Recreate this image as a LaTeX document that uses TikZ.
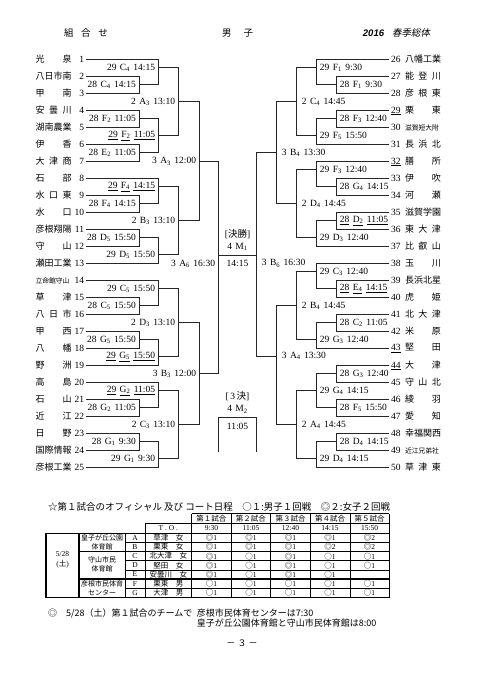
\documentclass[tikz,border=0pt]{standalone}
\usepackage{fontspec}
\setmainfont{Liberation Serif}
\newfontfamily\jp{Noto Sans CJK JP}
\newfontfamily\jpsl{Noto Sans CJK JP}[FakeSlant=0.2]
\newfontfamily\hsans{Liberation Sans}
\usepackage{tikz}
\usetikzlibrary{positioning}

\newcommand{\mlab}[4]{#1\hspace{3.4pt}#2\textsubscript{#3}\hspace{3.4pt}#4}
\newcommand{\mlabu}[4]{\underline{#1}\hspace{3.4pt}\underline{#2\textsubscript{#3}}\hspace{3.4pt}\underline{#4}}
\newcommand{\dmk}{{\jp ◎}}
\newcommand{\smk}{{\jp ○}}

\begin{document}
\begin{tikzpicture}[
  x=1pt, y=-1pt,
  font=\fontsize{9.5}{11}\selectfont,
  bl/.style={line width=0.9pt, black!85},
  lteam/.style={anchor=east, inner sep=0pt, outer xsep=2pt},
  rteam/.style={anchor=west, inner sep=0pt, outer xsep=2pt},
  llab/.style={anchor=east, inner sep=0pt, xshift=-3pt},
  rlab/.style={anchor=west, inner sep=0pt, xshift=3pt},
  ctext/.style={inner sep=0pt},
  cell/.style={inner sep=0pt, font=\fontsize{7.5}{8}\selectfont},
  jcell/.style={inner sep=0pt, font=\jp\fontsize{7.5}{8}\selectfont},
  tline/.style={line width=0.5pt},
  tthick/.style={line width=1.1pt}
]
\fill[white] (0,0) rectangle (481,680);
\useasboundingbox (0,0) rectangle (481,680);

% heading
\node[ctext] (hd1) at (86,33.3) {\jp\makebox[44pt][s]{組 合 せ}};
\node[ctext] (hd2) at (237.5,33.3) {\jp\makebox[31pt][s]{男 子}};
\node[ctext] (hd3) at (396.5,33.3) {{\hsans\bfseries\itshape 2016}\hspace{8pt}{\jpsl 春季総体}};

% teams
\foreach \i/\nm in {1/光 泉, 2/八日市南, 3/甲 南, 4/安 曇 川, 5/湖南農業, 6/伊 香, 7/大 津 商,
  8/石 部, 9/水 口 東, 10/水 口, 11/彦根翔陽, 12/守 山, 13/瀬田工業,
  14/{\fontsize{6.8}{8}\selectfont 立命館守山}, 15/草 津, 16/八 日 市, 17/甲 西, 18/八 幡, 19/野 洲,
  20/高 島, 21/石 山, 22/近 江, 23/日 野, 24/国際情報, 25/彦根工業}
  \node[lteam] (t\i) at (86,{59.3+17*(\i-1)}) {\makebox[36pt][s]{\jp\fontsize{9}{11}\selectfont\nm}\makebox[12.5pt][r]{\i}};

\foreach \i/\num/\nm in {26/26/八幡工業, 27/27/能 登 川, 28/28/彦 根 東, 29/\underline{29}/栗 東,
  30/30/{\fontsize{6.8}{8}\selectfont 滋賀短大附}, 31/31/長 浜 北, 32/\underline{32}/膳 所, 33/33/伊 吹,
  34/34/河 瀬, 35/35/滋賀学園, 36/36/東 大 津, 37/37/比 叡 山, 38/38/玉 川, 39/39/長浜北星,
  40/40/虎 姫, 41/41/北 大 津, 42/42/米 原, 43/\underline{43}/堅 田, 44/\underline{44}/大 津,
  45/45/守 山 北, 46/46/綾 羽, 47/47/愛 知, 48/48/幸福関西,
  49/49/{\fontsize{6.8}{8}\selectfont 近江兄弟社}, 50/50/草 津 東}
  \node[rteam] (t\i) at (389,{59.3+17*(\i-26)}) {\makebox[14pt][l]{\num}\makebox[36pt][s]{\jp\fontsize{9}{11}\selectfont\nm}};

% left half
\foreach \m/\x/\y/\a/\b/\txt in {
  L28C4/139/84.8/t2.east/t3.east/{\mlab{28}{C}{4}{14:15}},
  L29C4/158.3/67.8/t1.east/L28C4/{\mlab{29}{C}{4}{14:15}},
  L28F2/139/118.8/t4.east/t5.east/{\mlab{28}{F}{2}{11:05}},
  L28E2/139/152.8/t6.east/t7.east/{\mlab{28}{E}{2}{11:05}},
  L29F2/158.3/135.8/L28F2/L28E2/{\mlabu{29}{F}{2}{11:05}},
  L2A3/178.3/101.8/L29C4/L29F2/{\mlab{2}{A}{3}{13:10}\hspace{4pt}},
  L28F4/139/203.8/t9.east/t10.east/{\mlab{28}{F}{4}{14:15}},
  L29F4/158.3/186.8/t8.east/L28F4/{\mlabu{29}{F}{4}{14:15}},
  L28D5/139/237.8/t11.east/t12.east/{\mlab{28}{D}{5}{15:50}},
  L29D5/158.3/254.8/L28D5/t13.east/{\mlab{29}{D}{5}{15:50}},
  L2B3/178.3/220.8/L29F4/L29D5/{\mlab{2}{B}{3}{13:10}\hspace{4pt}},
  L3A3/199.3/161.3/L2A3/L2B3/{\mlab{3}{A}{3}{12:00}},
  L28C5/139/305.8/t15.east/t16.east/{\mlab{28}{C}{5}{15:50}},
  L29C5/158.3/288.8/t14.east/L28C5/{\mlab{29}{C}{5}{15:50}},
  L28G5/139/339.8/t17.east/t18.east/{\mlab{28}{G}{5}{15:50}},
  L29G5/158.3/356.8/L28G5/t19.east/{\mlabu{29}{G}{5}{15:50}},
  L2D3/178.3/322.8/L29C5/L29G5/{\mlab{2}{D}{3}{13:10}\hspace{4pt}},
  L28G2/139/407.8/t21.east/t22.east/{\mlab{28}{G}{2}{11:05}},
  L29G2/158.3/390.8/t20.east/L28G2/{\mlabu{29}{G}{2}{11:05}},
  L28G1/139/441.8/t23.east/t24.east/{\mlab{28}{G}{1}{9:30}},
  L29G1/158.3/458.8/L28G1/t25.east/{\mlab{29}{G}{1}{9:30}},
  L2C3/178.3/424.8/L29G2/L29G1/{\mlab{2}{C}{3}{13:10}\hspace{4pt}},
  L3B3/199.3/373.8/L2D3/L2C3/{\mlab{3}{B}{3}{12:00}}}{
  \coordinate (\m) at (\x,\y);
  \draw[bl] (\a) -| (\m) (\b) -| (\m);
  \node[llab] (lab\m) at (\m) {\txt};
}

% right half
\foreach \m/\x/\y/\a/\b/\txt in {
  R28F1/336.7/84.8/t27.west/t28.west/{\mlab{28}{F}{1}{9:30}},
  R29F1/316.7/67.8/t26.west/R28F1/{\mlab{29}{F}{1}{9:30}},
  R28F3/336.7/118.8/t29.west/t30.west/{\mlab{28}{F}{3}{12:40}},
  R29F5/316.7/135.8/R28F3/t31.west/{\mlab{29}{F}{5}{15:50}},
  R2C4/296.7/101.8/R29F1/R29F5/{\hspace{2pt}\mlab{2}{C}{4}{14:45}},
  R28G4/336.7/186.8/t33.west/t34.west/{\mlab{28}{G}{4}{14:15}},
  R29F3/316.7/169.8/t32.west/R28G4/{\mlab{29}{F}{3}{12:40}},
  R28D2/336.7/220.8/t35.west/t36.west/{\mlabu{28}{D}{2}{11:05}},
  R29D3/316.7/237.8/R28D2/t37.west/{\mlab{29}{D}{3}{12:40}},
  R2D4/296.7/203.8/R29F3/R29D3/{\hspace{2pt}\mlab{2}{D}{4}{14:45}},
  R3B4/276.7/152.8/R2C4/R2D4/{\hspace{2pt}\mlab{3}{B}{4}{13:30}},
  R28E4/336.7/288.8/t39.west/t40.west/{\mlabu{28}{E}{4}{14:15}},
  R29C3/316.7/271.8/t38.west/R28E4/{\mlab{29}{C}{3}{12:40}},
  R28C2/336.7/322.8/t41.west/t42.west/{\mlab{28}{C}{2}{11:05}},
  R29G3/316.7/339.8/R28C2/t43.west/{\mlab{29}{G}{3}{12:40}},
  R2B4/296.7/305.8/R29C3/R29G3/{\hspace{2pt}\mlab{2}{B}{4}{14:45}},
  R28G3/336.7/373.8/t44.west/t45.west/{\mlab{28}{G}{3}{12:40}},
  R28F5/336.7/407.8/t46.west/t47.west/{\mlab{28}{F}{5}{15:50}},
  R29G4/316.7/390.8/R28G3/R28F5/{\mlab{29}{G}{4}{14:15}},
  R28D4/336.7/441.8/t48.west/t49.west/{\mlab{28}{D}{4}{14:15}},
  R29D4/316.7/458.8/R28D4/t50.west/{\mlab{29}{D}{4}{14:15}},
  R2A4/296.7/424.8/R29G4/R29D4/{\hspace{2pt}\mlab{2}{A}{4}{14:45}},
  R3A4/276.7/356/R2B4/R2A4/{\hspace{2pt}\mlab{3}{A}{4}{13:30}}}{
  \coordinate (\m) at (\x,\y);
  \draw[bl] (\a) -| (\m) (\b) -| (\m);
  \node[rlab] (lab\m) at (\m) {\txt};
}

% semifinals, final, third place
\coordinate (L3A6) at (218.3,255);
\coordinate (R3B6) at (256.7,255);
\draw[bl] (L3A3) -| (L3A6) (L3B3) -| (L3A6);
\draw[bl] (R3B4) -| (R3B6) (R3A4) -| (R3B6);
\draw[bl] (L3A6) -- (R3B6);
\node[llab] (labL3A6) at (218.3,264) {\mlab{3}{A}{6}{16:30}};
\node[rlab] (labR3B6) at (256.7,263.3) {\hspace{2pt}\mlab{3}{B}{6}{16:30}};
\node[ctext] (fintime) at (237.5,263.3) {14:15};
\node[ctext] (finno) at (237.5,246.7) {4\hspace{3.4pt}M\textsubscript{1}};
\node[ctext, above=4pt of finno] (fintit) {[{\jp 決勝}]};

\coordinate (Q1) at (218.3,451.7);
\coordinate (Q2) at (256.7,451.7);
\draw[bl] (Q1) -- ++(0,-34.4) -| (Q2);
\node[ctext] (thrtime) at (237.5,426) {11:05};
\node[ctext] (thrno) at (237.5,409.3) {4\hspace{3.4pt}M\textsubscript{2}};
\node[ctext, above=4pt of thrno] (thrtit) {[\,3\,{\jp 決}]};

% court schedule
\node[anchor=west, inner sep=0pt, font=\jp\fontsize{9.5}{10}\selectfont] (tbltitle) at (48,506.7)
  {☆第１試合のオフィシャル 及び コート日程　○１:男子１回戦　◎２:女子２回戦};

\draw[tline] (191.7,513.5) -- (389.3,513.5);
\draw[tline] (145,523) -- (389.3,523);
\draw[tline] (145,523) -- (145,597.3);
\foreach \j in {0,...,5}
  \draw[tline] ({191.7+39.52*\j},513.5) -- ({191.7+39.52*\j},597.3);
\draw[tthick] (46,533.3) rectangle (389.3,597.3);
\draw[tthick] (79,533.3) -- (79,597.3);
\draw[tline] (125,533.3) -- (125,597.3);
\foreach \k in {1,3,4,6}
  \draw[tline] (125,{533.3+9.143*\k}) -- (389.3,{533.3+9.143*\k});
\foreach \k in {2,5}
  \draw[tthick] (79,{533.3+9.143*\k}) -- (389.3,{533.3+9.143*\k});

\node[cell] (tohd) at (168.3,528.2) {T . O .};
\foreach \g/\tm [count=\j] in {第１試合/9:30, 第２試合/11:05, 第３試合/12:40, 第４試合/14:15, 第５試合/15:50}{
  \node[jcell] (gm\j) at ({191.7+39.52*(\j-0.5)},518.3) {\g};
  \node[cell] (tm\j) at ({191.7+39.52*(\j-0.5)},528.2) {\tm};
}

\foreach \c/\tea/\ka/\kb/\kc/\kd/\kf [count=\k] in {
  A/草津　女/\dmk 1/\dmk 1/\dmk 1/\dmk 1/\dmk 2,
  B/栗東　女/\dmk 1/\dmk 1/\dmk 1/\dmk 2/\dmk 2,
  C/北大津　女/\dmk 1/\smk 1/\dmk 1/\smk 1/\smk 1,
  D/堅田　女/\dmk 1/\smk 1/\dmk 1/\smk 1/\smk 1,
  E/安曇川　女/\dmk 1/\smk 1/\dmk 1/\smk 1/{},
  F/栗東　男/\smk 1/\smk 1/\smk 1/\smk 1/\smk 1,
  G/大津　男/\smk 1/\smk 1/\smk 1/\smk 1/\smk 1}{
  \node[cell] (ct\k) at (135,{533.3+9.143*(\k-0.5)}) {\c};
  \node[jcell] (to\k) at (168.3,{533.3+9.143*(\k-0.5)}) {\tea};
  \foreach \v [count=\j] in {\ka,\kb,\kc,\kd,\kf}
    \node[cell] (g\k-\j) at ({191.7+39.52*(\j-0.5)},{533.3+9.143*(\k-0.5)}) {\v};
}

\node[cell, align=center, font=\fontsize{7.5}{9.5}\selectfont] (day) at (62.5,560) {5/28\\({\jp 土})};
\node[jcell, align=center, font=\jp\fontsize{7}{9.1}\selectfont] (vn1) at (102,542.4) {皇子が丘公園\\体育館};
\node[jcell, align=center, font=\jp\fontsize{7}{9.1}\selectfont] (vn2) at (102,564) {守山市民\\体育館};
\node[jcell, align=center, font=\jp\fontsize{7}{9.1}\selectfont] (vn3) at (102,588.2) {彦根市民体育\\センター};

% notes
\node[anchor=west, inner sep=0pt, font=\jp\fontsize{9}{10}\selectfont] (note1) at (48,613.3) {◎　5/28（土）第１試合のチームで};
\node[anchor=west, inner sep=0pt, font=\jp\fontsize{9}{10}\selectfont] (note2) at (196.7,613.3) {彦根市民体育センターは7:30};
\node[anchor=west, inner sep=0pt, font=\jp\fontsize{9}{10}\selectfont] (note3) at ([yshift=-10pt]note2.west) {皇子が丘公園体育館と守山市民体育館は8:00};
\node[ctext, font=\jp\fontsize{9}{10}\selectfont] (pgno) at (242,642.7) {－ ３ －};
\end{tikzpicture}
\end{document}
